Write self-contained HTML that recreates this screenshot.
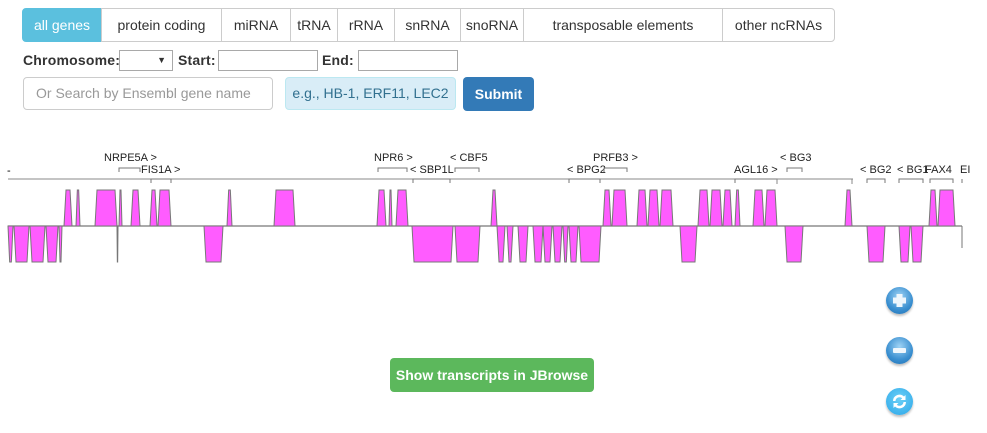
<!DOCTYPE html>
<html><head><meta charset="utf-8">
<style>
body{margin:0;width:987px;height:433px;background:#fff;font-family:"Liberation Sans",sans-serif;position:relative;overflow:hidden;color:#333}
.abs{position:absolute;box-sizing:border-box}
.tab{position:absolute;top:8px;height:34px;border:1px solid #ccc;font-size:14px;line-height:32px;text-align:center;color:#333;background:#fff;box-sizing:border-box}
.lbl{position:absolute;font-size:14px;font-weight:bold;top:52px;letter-spacing:0.2px}
.inp{position:absolute;border:1px solid #a9a9a9;background:#fff;box-sizing:border-box;height:21px;top:50px}
.zb{position:absolute;left:886px;width:27px;height:27px;border-radius:50%;background:radial-gradient(circle at 50% 35%,#9fd3f5,#3a8fd0 60%,#1e6fb3);box-shadow:0 2px 2px rgba(0,0,0,.25)}
</style></head><body>
<div class="tab" style="left:22px;width:80px;background:#5bc0de;border-color:#5bc0de;color:#fff;border-radius:4px 0 0 4px">all genes</div>
<div class="tab" style="left:101px;width:121px">protein coding</div>
<div class="tab" style="left:221px;width:70px">miRNA</div>
<div class="tab" style="left:290px;width:48px">tRNA</div>
<div class="tab" style="left:337px;width:58px">rRNA</div>
<div class="tab" style="left:394px;width:67px">snRNA</div>
<div class="tab" style="left:460px;width:64px">snoRNA</div>
<div class="tab" style="left:523px;width:200px">transposable elements</div>
<div class="tab" style="left:722px;width:113px;border-radius:0 4px 4px 0">other ncRNAs</div>

<div class="lbl" style="left:23px">Chromosome:</div>
<div class="inp" style="left:119px;width:54px;font-size:9px;text-align:right;padding-right:6px;line-height:18px">▼</div>
<div class="lbl" style="left:178px">Start:</div>
<div class="inp" style="left:218px;width:100px"></div>
<div class="lbl" style="left:322px">End:</div>
<div class="inp" style="left:358px;width:100px"></div>

<div class="abs" style="left:23px;top:77px;width:250px;height:33px;border:1px solid #ccc;border-radius:4px;font-size:14px;color:#999;padding:0 12px;line-height:31px">Or Search by Ensembl gene name</div>
<div class="abs" style="left:285px;top:77px;width:171px;height:33px;border:1px solid #bce8f1;background:#d9edf7;border-radius:4px;font-size:14px;color:#31708f;line-height:31px;text-align:center">e.g., HB-1, ERF11, LEC2</div>
<div class="abs" style="left:463px;top:77px;width:71px;height:34px;background:#337ab7;border-radius:4px;color:#fff;font-size:14px;font-weight:bold;line-height:34px;text-align:center">Submit</div>

<svg class="abs" style="left:0;top:140px" width="987" height="135" id="chart"></svg>

<div class="abs" style="left:390px;top:358px;width:204px;height:34px;background:#5cb85c;border-radius:4px;color:#fff;font-size:14px;font-weight:bold;line-height:34px;text-align:center">Show transcripts in JBrowse</div>

<div class="zb" style="top:287px"><svg width="27" height="27"><path d="M10.5 7h6v3.5h3.5v6h-3.5v3.5h-6v-3.5h-3.5v-6h3.5z" fill="#eef6fc"/></svg></div>
<div class="zb" style="top:337px"><svg width="27" height="27"><rect x="7" y="11" width="13" height="5" rx="1" fill="#eef6fc"/></svg></div>
<div class="zb" style="top:388px;background:radial-gradient(circle at 50% 40%,#6cd0f7,#2ba6e8)"><svg width="27" height="27"><path d="M7 13a6.5 6.5 0 0 1 11-4.5l1.5-1.5v5h-5l1.7-1.7A4 4 0 0 0 9.5 13z M20 14a6.5 6.5 0 0 1-11 4.5l-1.5 1.5v-5h5l-1.7 1.7A4 4 0 0 0 17.5 14z" fill="#fff"/></svg></div>

<script>
// Genomic coordinates (track units, 0..954)
const upStarts = [56,68,87,111,123,142,150,219,266,369,381,388,483,595,604,629,640,652,690,702,715,727,745,757,837,921,930];
const upEnds   = [64,72,109,114,132,149,163,224,287,378,384,400,489,603,619,639,651,665,701,714,724,732,756,769,844,929,947];
const downStarts=[0,6,22,38,51,109,196,404,447,489,499,510,525,535,545,555,561,571,672,777,859,891,903];
const downEnds  =[5,21,37,50,54,110,215,445,472,497,505,520,535,544,554,560,570,593,689,795,877,902,915];
const geneNames=["NRPE5A >","FIS1A >","NPR6 >","< SBP1L","< CBF5","< BPG2","PRFB3 >","AGL16 >","< BG3","< BG2","< BG1","FAX4","EI"];
const geneStarts=[111,143,370,405,447,561,596,727,779,859,891,922,954];
const geneEnds  =[132,163,399,442,471,592,619,769,794,877,915,945,954];
const geneRows  =[0,1,0,1,0,1,0,1,0,1,1,1,1];
const labelOffsets=[-15,-10,-4,-3,-5,-2,-11,-1,-7,-7,-2,-5,-2];

const svg=document.getElementById('chart');
const NS='http://www.w3.org/2000/svg';
const x=v=>8+v;
const BASE=86, H=36;
function mk(t,a){const e=document.createElementNS(NS,t);for(const k in a)e.setAttribute(k,a[k]);svg.appendChild(e);return e;}
let ax=mk('line',{x1:8,y1:39,x2:853,y2:39,stroke:'#888','stroke-width':1});


let bl=mk('line',{x1:8,y1:BASE,x2:962,y2:BASE,stroke:'#777','stroke-width':1.2});


function block(s,e,dir,name){
  const x1=x(s),x2=x(e),y=BASE-dir*H,sl=Math.min(2,(x2-x1)/3);
  const p=mk('polygon',{points:`${x1},${BASE} ${x1+sl},${y} ${x2-sl},${y} ${x2},${BASE}`,fill:'#ff5cff',stroke:'#777','stroke-width':1});
  
  
}
upStarts.forEach((s,i)=>block(s,upEnds[i],1,'plus-strand-block'));
downStarts.forEach((s,i)=>block(s,downEnds[i],-1,'minus-strand-block'));
let tail=mk('line',{x1:962,y1:BASE,x2:962,y2:108,stroke:'#777'});


let dash=mk('text',{x:7,y:34,'font-size':11,'font-family':'Liberation Sans, sans-serif',fill:'#000'});dash.textContent='-';


geneNames.forEach((n,i)=>{
  const r=geneRows[i];
  const by=r===0?28:39;
  const x1=x(geneStarts[i]),x2=x(geneEnds[i]);
  const b=mk('path',{d:`M${x1},${by+4}V${by}H${x2}V${by+4}`,fill:'none',stroke:'#777'});
  
  
  const t=mk('text',{x:x1+labelOffsets[i],y:r===0?21:33,'font-size':11,'font-family':'Liberation Sans, sans-serif',fill:'#222'});
  t.textContent=n;
  
  
});
[777,852].forEach(v=>{const l=mk('line',{x1:v,y1:39,x2:v,y2:44,stroke:'#888'});

});
</script>
</body></html>
